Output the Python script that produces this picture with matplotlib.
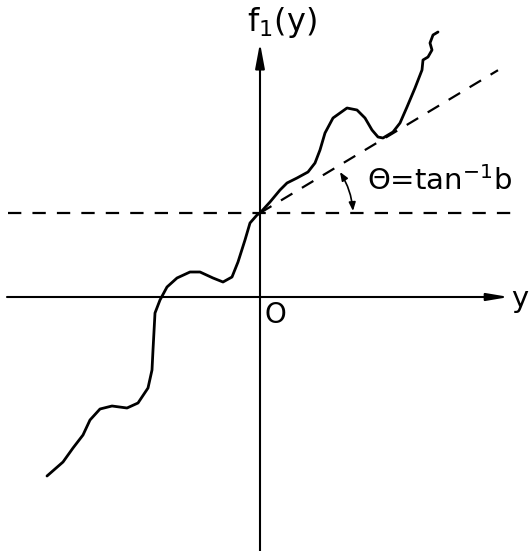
import numpy as np
import matplotlib.pyplot as plt
from matplotlib.patches import FancyArrowPatch

# Curve f1(y) (origin at the axes crossing)
curve_y = [-213, -197, -187, -177, -170, -160, -148, -133, -122, -112, -108, -107,
           -105, -100, -93, -83, -70, -60, -47, -37, -28, -22, -15, -10, -3, 0,
           10, 20, 27, 37, 48, 55, 60, 65, 73, 87, 97, 105, 112, 118, 123, 133,
           140, 147, 155, 162, 163, 168, 172, 170, 173, 178]
curve_f = [-179, -165, -151, -138, -123, -112, -109, -111, -106, -91, -73, -53,
           -16, -3, 10, 19, 25, 25, 19, 15, 20, 35, 57, 74, 82, 84,
           95, 107, 114, 119, 125, 134, 147, 164, 179, 189, 187, 179, 167, 160, 159, 165,
           174, 190, 209, 227, 237, 240, 247, 254, 262, 265]

f0 = 84          # f1(0), level of the horizontal dashed line
b = 0.6          # slope of the dashed tangent
tangent_end = 238

fig = plt.figure(figsize=(5.31, 5.51), dpi=100)
ax = fig.add_axes([0, 0, 1, 1])
ax.set_xlim(-260, 271)
ax.set_ylim(-254, 297)
ax.axis('off')

# axes with arrows
ax.annotate('', xy=(249, 0), xytext=(-253, 0),
            arrowprops=dict(arrowstyle='-|>,head_length=1.3,head_width=0.22',
                            color='black', lw=1.5, shrinkA=0, shrinkB=0))
ax.annotate('', xy=(0, 254), xytext=(0, -254),
            arrowprops=dict(arrowstyle='-|>,head_length=1.5,head_width=0.28',
                            color='black', lw=1.5, shrinkA=0, shrinkB=0))

# dashed reference lines
ax.plot([-252, 253], [f0, f0], color='black', lw=1.6, linestyle=(0, (6, 5)))
xt = np.array([0, tangent_end])
ax.plot(xt, f0 + b * xt, color='black', lw=1.6, linestyle=(0, (6, 5)))

# the curve
ax.plot(curve_y, curve_f, color='black', lw=2.0, solid_capstyle='round',
        solid_joinstyle='round')

# angle marker
arc = FancyArrowPatch((93, 86), (80, 125), connectionstyle='arc3,rad=0.12',
                      arrowstyle='<|-|>,head_length=5,head_width=2',
                      color='black', lw=1.2, shrinkA=0, shrinkB=0)
ax.add_patch(arc)

# labels
ax.text(22, 275, 'f$_{1}$(y)', fontsize=23, ha='center', va='center')
ax.text(107, 116, 'Θ=tan$^{-1}$b', fontsize=21, ha='left', va='center')
ax.text(15, -18, 'O', fontsize=20, ha='center', va='center')
ax.text(251, -10, 'y', fontsize=21, ha='left', va='baseline')

fig.savefig('out.png', dpi=100)
